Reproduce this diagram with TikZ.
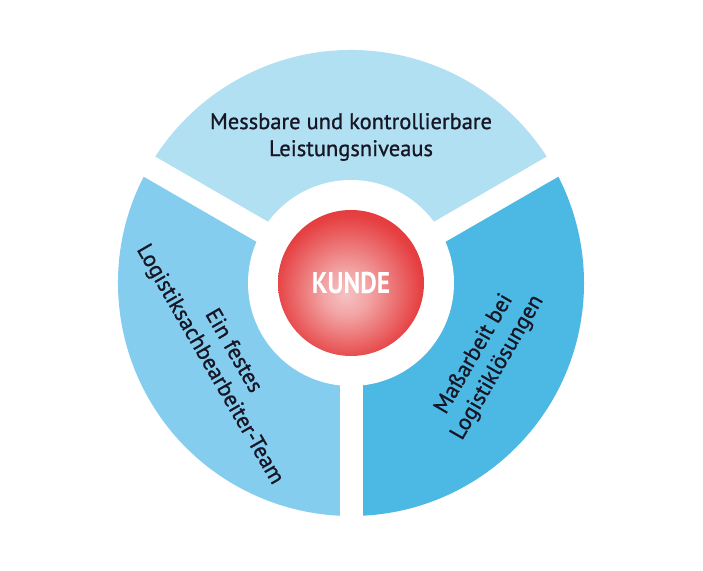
\documentclass[tikz,border=0pt]{standalone}
\usepackage{fontspec}
\setmainfont{PT Sans}
\newfontfamily\medfont{PT Sans}[FakeBold=0.9]
\usetikzlibrary{calc}
\definecolor{segtop}{HTML}{B2E0F3}
\definecolor{segleft}{HTML}{84CDEF}
\definecolor{segright}{HTML}{4CB8E4}
\definecolor{txt}{HTML}{161624}
\definecolor{kred}{HTML}{E3292B}
\definecolor{kpink}{HTML}{F6C2C2}
\pgfdeclareradialshading{kball}{\pgfpoint{-2bp}{-4bp}}{%
  color(0bp)=(kpink); color(8bp)=(kpink!80!kred); color(25bp)=(kred!85!kpink); color(38bp)=(kred); color(50bp)=(kred)}
\begin{document}
\begin{tikzpicture}[x=1pt,y=1pt,
  segtext/.style={font=\medfont\fontsize{22.5}{27}\selectfont, text=txt, align=center, inner sep=0pt}]
\useasboundingbox (0,0) rectangle (703,570);
\fill[white] (0,0) rectangle (703,570);
\coordinate (c) at (351,287);
\def\R{233}
\fill[segtop] (c) -- ++(30:\R) arc[start angle=30,end angle=150,radius=\R] -- cycle;
\fill[segleft] (c) -- ++(150:\R) arc[start angle=150,end angle=270,radius=\R] -- cycle;
\fill[segright] (c) -- ++(270:\R) arc[start angle=270,end angle=390,radius=\R] -- cycle;
\foreach \a in {30,150,270}{
  \draw[white, line width=23] (c) -- ++(\a:\R+5);
}
\fill[white] (c) circle[radius=103];
\node[circle, minimum size=146, inner sep=0pt, shading=kball] (kunde) at (c) {};
\node[font=\fontsize{30}{30}\selectfont\bfseries, text=white, xscale=0.85] (kt) at (c) {KUNDE};
\node[segtext] (top) at ($(c)+(90:146)$) {Messbare und kontrollierbare\\Leistungsniveaus};
\node[segtext, rotate=-60] (left) at ($(c)+(210:150)$) {Ein festes\\Logistiksachbearbeiter-Team};
\node[segtext, rotate=60] (right) at ($(c)+(-30:156)$) {Maßarbeit bei\\Logistiklösungen};
\end{tikzpicture}
\end{document}
